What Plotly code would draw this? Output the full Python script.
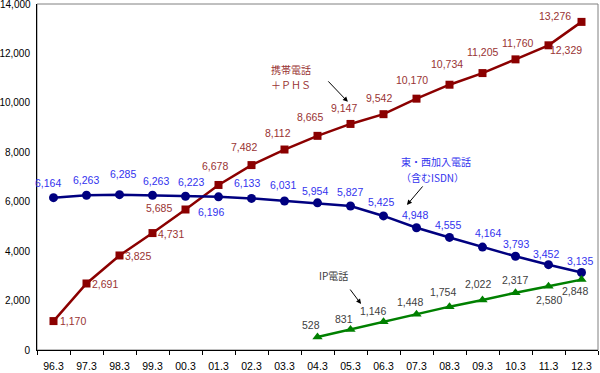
import plotly.graph_objects as go

categories = ["96.3", "97.3", "98.3", "99.3", "00.3", "01.3", "02.3", "03.3", "04.3",
              "05.3", "06.3", "07.3", "08.3", "09.3", "10.3", "11.3", "12.3"]
mobile = [1170, 2691, 3825, 4731, 5685, 6678, 7482, 8112, 8665,
          9147, 9542, 10170, 10734, 11205, 11760, 12329, 13276]
fixed = [6164, 6263, 6285, 6263, 6223, 6196, 6133, 6031, 5954,
         5827, 5425, 4948, 4555, 4164, 3793, 3452, 3135]
ip_phone = [None, None, None, None, None, None, None, None, 528,
            831, 1146, 1448, 1754, 2022, 2317, 2580, 2848]
y_ticks = [0, 2000, 4000, 6000, 8000, 10000, 12000, 14000]

name_mobile = ["携帯電話", "＋ＰＨＳ"]
name_fixed = ["東・西加入電話", "（含むISDN）"]
name_ip = ["IP電話"]

FONT = "Liberation Sans, Arial, sans-serif"
JFONT = "Noto Sans CJK JP, sans-serif"

C_MOB_LINE = "#8B0000"
C_MOB_TXT = "#993333"
C_FIX_LINE = "#000080"
C_FIX_TXT = "#3333EE"
C_IP_LINE = "#008000"
C_IP_TXT = "#404040"

# label offsets in pixels (dx right, dy down) - styling only
off_mobile = [(19, 0), (18, 1), (18, 1), (18, 1), (-27, -2), (-4, -19), (-8, -18), (-7, -17),
              (-8, -19), (-7, -16), (-5, -16), (-5, -19), (-3, -21), (0, -21), (2, -16),
              (17, 5), (-27, -6)]
off_fixed = [(-6, -15), (-1, -15), (3, -21), (3, -14), (5, -14), (-8, 15), (-5, -15), (-2, -16),
             (-3, -12), (-1, -14), (-3, -14), (-2, -13), (-2, -12), (5, -14), (0, -12),
             (-3, -11), (-2, -12)]
off_ip = [None] * 8 + [(-7, -12), (-7, -10), (-11, -11), (-7, -12), (-7, -15), (-5, -16),
                       (-1, -13), (0, 14), (-7, 11)]

fig = go.Figure()
fig.add_trace(go.Scatter(x=categories, y=mobile, mode="lines+markers",
                         line=dict(color=C_MOB_LINE, width=2.5),
                         marker=dict(symbol="square", size=8, color=C_MOB_LINE),
                         showlegend=False, cliponaxis=False))
fig.add_trace(go.Scatter(x=categories, y=fixed, mode="lines+markers",
                         line=dict(color=C_FIX_LINE, width=2.5),
                         marker=dict(symbol="circle", size=9, color=C_FIX_LINE),
                         showlegend=False, cliponaxis=False))
fig.add_trace(go.Scatter(x=categories, y=ip_phone, mode="lines+markers",
                         line=dict(color=C_IP_LINE, width=2.5),
                         marker=dict(symbol="triangle-up", size=9, color=C_IP_LINE),
                         showlegend=False, cliponaxis=False))

annotations = []
for series, offs, col in ((mobile, off_mobile, C_MOB_TXT), (fixed, off_fixed, C_FIX_TXT),
                          (ip_phone, off_ip, C_IP_TXT)):
    for i, (v, o) in enumerate(zip(series, offs)):
        if v is None:
            continue
        annotations.append(dict(x=i, y=v, xref="x", yref="y", text=f"{v:,}", showarrow=False,
                                xshift=o[0], yshift=-o[1],
                                font=dict(family=FONT, size=10.5, color=col)))

# top y tick label (plotly drops it at the very edge of the page)
annotations.append(dict(x=0, y=y_ticks[-1], xref="paper", yref="y", text=f"{y_ticks[-1]:,}",
                        showarrow=False, xanchor="right", xshift=-4,
                        font=dict(family=FONT, size=10, color="#000000")))

# series name labels, one line each (positions in axis coordinates)
for lines, xs, ys, col in ((name_mobile, [7.2, 7.2], [11330, 10723], C_MOB_TXT),
                           (name_fixed, [11.59, 11.47], [7647, 7000], C_FIX_TXT),
                           (name_ip, [8.47], [3030], C_IP_TXT)):
    for t, xx, yy in zip(lines, xs, ys):
        annotations.append(dict(x=xx, y=yy, xref="x", yref="y", text=t, showarrow=False,
                                font=dict(family=JFONT, size=10, color=col)))
# arrows
for tip_x, tip_y, ax, ay in ((8.92, 10040, -21, -22), (10.71, 5870, 17, -20), (9.32, 1860, -12, -16)):
    annotations.append(dict(x=tip_x, y=tip_y, xref="x", yref="y", text="", showarrow=True,
                            ax=ax, ay=ay, arrowhead=2, arrowsize=1, arrowwidth=1,
                            arrowcolor="#000000", standoff=0, startstandoff=0))

fig.update_layout(
    width=600, height=373,
    margin=dict(l=37, r=2, t=4, b=23, autoexpand=False),
    paper_bgcolor="white", plot_bgcolor="white",
    annotations=annotations,
    shapes=[dict(type="rect", xref="paper", yref="paper", x0=0, y0=0, x1=1, y1=1,
                 line=dict(color="#808080", width=1), layer="below")],
)
fig.update_xaxes(type="category", range=[-0.5, 16.5], showline=True, linecolor="#000000",
                 linewidth=1, ticks="outside", ticklen=4, tickcolor="#000000",
                 tickson="boundaries", showgrid=False, zeroline=False, automargin=False,
                 ticklabelstandoff=6,
                 tickfont=dict(family=FONT, size=10.5, color="#000000"))
fig.update_yaxes(range=[0, 14000], tickvals=y_ticks[:-1], tickformat=",d", showline=True,
                 linecolor="#000000", linewidth=1, ticks="", showgrid=False, zeroline=False,
                 automargin=False,
                 tickfont=dict(family=FONT, size=10, color="#000000"), ticklabelstandoff=4)

fig.write_html("out.html", config={"displayModeBar": False},
               post_script="document.body.style.margin='0';")
